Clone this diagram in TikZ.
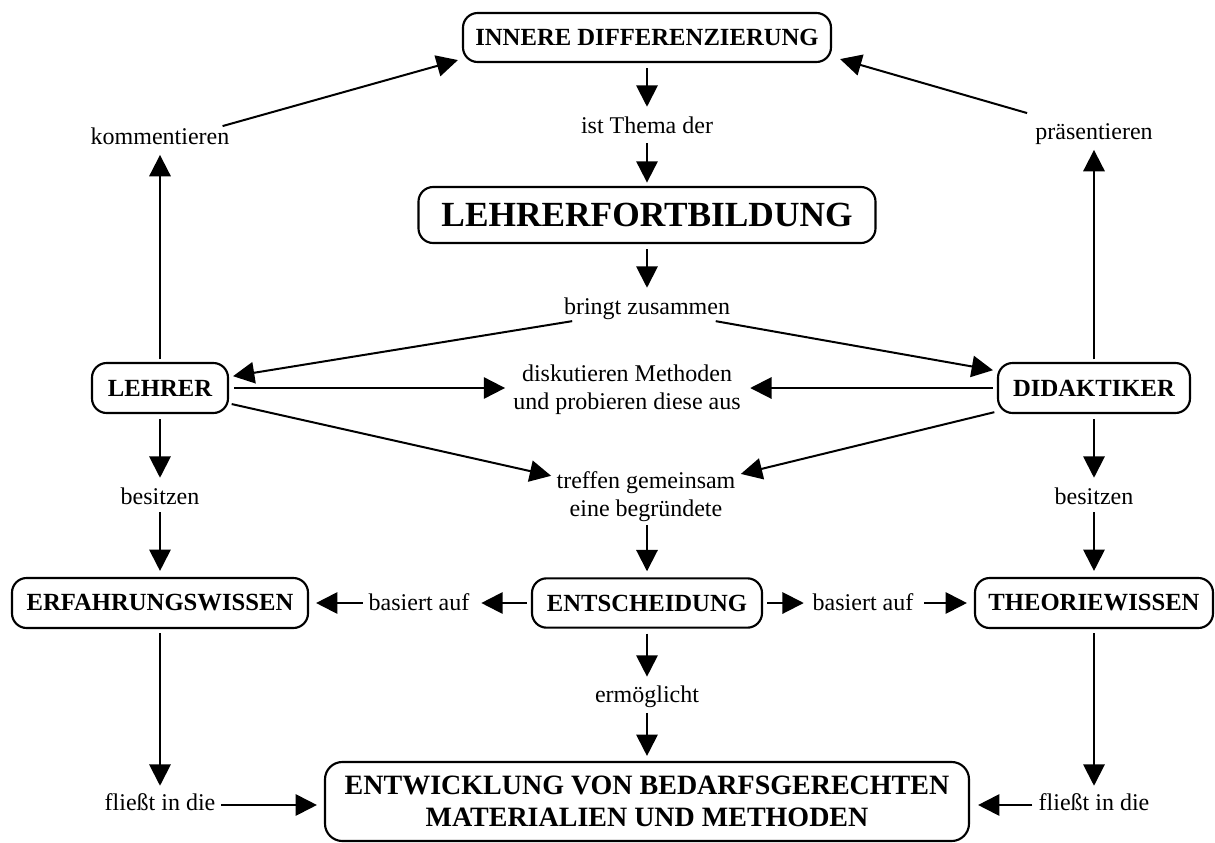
\documentclass[tikz,border=0pt]{standalone}
\usepackage{fontspec}
\setmainfont{Liberation Serif}
\usetikzlibrary{arrows.meta}

\begin{document}
\begin{tikzpicture}[x=0.75pt,y=-0.75pt,
  box/.style={draw, line width=1.6pt, rounded corners=11pt, inner sep=0pt, align=center,
              font=\bfseries\fontsize{18.5}{21}\selectfont},
  lbl/.style={inner sep=0pt, text height=13pt, text depth=4.5pt,
              font=\fontsize{18}{21}\selectfont},
  lbltwo/.style={inner sep=0pt, align=center, font=\fontsize{18}{21}\selectfont},
  arr/.style={line width=1.5pt, -{Triangle[length=16pt,width=16pt]}}
]
\fill[white] (0,0) rectangle (1215,843);
\useasboundingbox (0,0) rectangle (1215,843);

% concept boxes
\node[box, minimum width=276pt, minimum height=36.75pt] (inner) at (647,37.5) {INNERE DIFFERENZIERUNG};
\node[box, font=\bfseries\fontsize{26.5}{30}\selectfont, minimum width=342.75pt, minimum height=42pt] (lfb) at (647,215) {LEHRERFORTBILDUNG};
\node[box, minimum width=102pt, minimum height=37.5pt] (lehrer) at (160,388) {LEHRER};
\node[box, minimum width=144pt, minimum height=37.5pt] (didak) at (1094,388) {DIDAKTIKER};
\node[box, minimum width=222pt, minimum height=37.5pt] (erf) at (160,603) {ERFAHRUNGSWISSEN};
\node[box, minimum width=172.5pt, minimum height=37pt] (entsch) at (647,603) {ENTSCHEIDUNG};
\node[box, minimum width=178.5pt, minimum height=37.5pt] (theo) at (1094,603) {THEORIEWISSEN};
\node[box, rounded corners=13pt, font=\bfseries\fontsize{21}{24.5}\selectfont, minimum width=483pt, minimum height=59.25pt] (entw) at (647,801.5) {ENTWICKLUNG VON BEDARFSGERECHTEN\\MATERIALIEN UND METHODEN};

% link phrases
\node[lbl] (thema) at (647,128) {ist Thema der};
\node[lbl] (bringt) at (647,309) {bringt zusammen};
\node[lbl] (komm) at (160,139) {kommentieren};
\node[lbl] (praes) at (1094,134) {präsentieren};
\node[lbltwo] (disk) at (627,390) {diskutieren Methoden\\und probieren diese aus};
\node[lbltwo] (treff) at (646,497) {treffen gemeinsam\\eine begründete};
\node[lbl] (besL) at (160,499) {besitzen};
\node[lbl] (besR) at (1094,499) {besitzen};
\node[lbl] (basL) at (419,605) {basiert auf};
\node[lbl] (basR) at (863,605) {basiert auf};
\node[lbl] (ermo) at (647,697) {ermöglicht};
\node[lbl] (fliL) at (160,805) {fließt in die};
\node[lbl] (fliR) at (1094,805) {fließt in die};

% central column
\draw[arr, shorten <=3.75pt, shorten >=7pt] (inner.south) -- (thema.north);
\draw[arr, shorten <=2.5pt, shorten >=2.5pt] (thema.south) -- (lfb.north);
\draw[arr, shorten <=3.75pt, shorten >=7pt] (lfb.south) -- (bringt.north);
\draw[arr, shorten <=1pt, shorten >=3pt] (bringt) -- (lehrer);
\draw[arr, shorten <=1pt, shorten >=3pt] (bringt) -- (didak);
\draw[arr, shorten <=3.75pt, shorten >=6pt] (lehrer.east) -- (disk.west |- lehrer.east);
\draw[arr, shorten <=3pt, shorten >=7pt] (didak.west) -- (disk.east |- didak.west);
\draw[arr, shorten <=2pt, shorten >=4pt] (lehrer) -- (treff);
\draw[arr, shorten <=2pt, shorten >=4pt] (didak) -- (treff);
\draw[arr, shorten <=2pt, shorten >=4.5pt] (treff.south -| entsch.north) -- (entsch.north);
\draw[arr, shorten <=3.75pt, shorten >=6.3pt] (entsch.south) -- (ermo.north);
\draw[arr, shorten <=3pt, shorten >=3.75pt] (ermo.south) -- (entw.north);

% left column
\draw[arr, shorten <=2pt, shorten >=3pt] (lehrer.north) -- (komm.south);
\draw[arr] ([shift={(-7,-1)}]komm.north east) -- ([shift={(-4,-3)}]inner.south west);
\draw[arr, shorten <=3.75pt, shorten >=7pt] (lehrer.south) -- (besL.north);
\draw[arr, shorten <=1pt, shorten >=4.5pt] (besL.south) -- (erf.north);
\draw[arr, shorten <=3pt, shorten >=5.5pt] (erf.south) -- (fliL.north);
\draw[arr, shorten <=4.3pt, shorten >=5.25pt] (fliL.east) -- (entw.west |- fliL.east);
\draw[arr, shorten <=3pt, shorten >=8.8pt] (entsch.west) -- (basL.east |- entsch.west);
\draw[arr, shorten <=4.3pt, shorten >=5.25pt] (basL.west |- erf.east) -- (erf.east);

% right column
\draw[arr, shorten <=2pt, shorten >=3pt] (didak.north) -- (praes.south);
\draw[arr] ([shift={(-8,-9)}]praes.north west) -- ([shift={(8,-4)}]inner.south east);
\draw[arr, shorten <=3.75pt, shorten >=7pt] (didak.south) -- (besR.north);
\draw[arr, shorten <=1pt, shorten >=4.5pt] (besR.south) -- (theo.north);
\draw[arr, shorten <=3pt, shorten >=5.5pt] (theo.south) -- (fliR.north);
\draw[arr, shorten <=4.5pt, shorten >=6pt] (fliR.west) -- (entw.east |- fliR.west);
\draw[arr, shorten <=3pt, shorten >=6.5pt] (entsch.east) -- (basR.west |- entsch.east);
\draw[arr, shorten <=8pt, shorten >=5.25pt] (basR.east |- theo.west) -- (theo.west);
\end{tikzpicture}
\end{document}
